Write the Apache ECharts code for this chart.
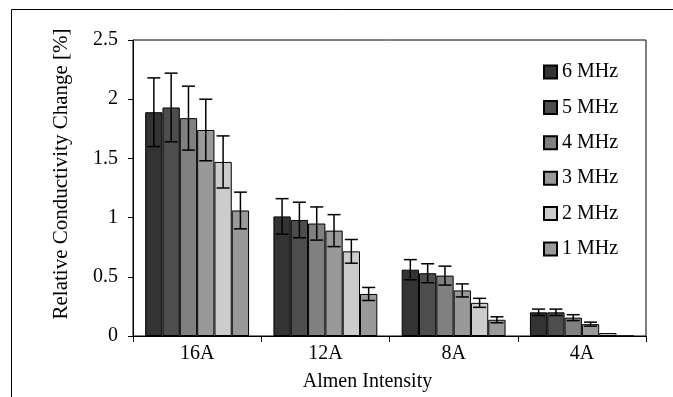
<!DOCTYPE html>
<html>
<head>
<meta charset="UTF-8">
<title>Relative Conductivity Change</title>
<script src="https://cdn.jsdelivr.net/npm/echarts@6/dist/echarts.min.js"></script>
<style>
  html, body { margin: 0; padding: 0; background: #fff; }
  #chart { width: 673px; height: 397px; }
</style>
</head>
<body>
<div id="chart"></div>
<script>
// categories on the x axis
var intensities = ['16A', '12A', '8A', '4A'];
var names = ['6 MHz', '5 MHz', '4 MHz', '3 MHz', '2 MHz', '1 MHz'];

// mean values per frequency
var mhz6 = [1.89, 1.01, 0.56, 0.20];
var mhz5 = [1.93, 0.98, 0.53, 0.20];
var mhz4 = [1.84, 0.95, 0.51, 0.155];
var mhz3 = [1.74, 0.89, 0.385, 0.10];
var mhz2 = [1.47, 0.715, 0.28, 0.025];
var mhz1 = [1.06, 0.355, 0.137, 0];

// error bar half lengths
var err6 = [0.29, 0.15, 0.085, 0.027];
var err5 = [0.29, 0.15, 0.08, 0.027];
var err4 = [0.27, 0.14, 0.08, 0.025];
var err3 = [0.26, 0.135, 0.055, 0.017];
var err2 = [0.22, 0.10, 0.038, 0];
var err1 = [0.155, 0.055, 0.025, 0];

var yTicks = [0, 0.5, 1, 1.5, 2, 2.5];

var values = [mhz6, mhz5, mhz4, mhz3, mhz2, mhz1];
var errors = [err6, err5, err4, err3, err2, err1];
var colors = ['#333333', '#4d4d4d', '#808080', '#999999', '#cccccc', '#999999'];
var gapRatio = 0.19;
var font = 'Liberation Serif';

var chart = echarts.init(document.getElementById('chart'));

var series = [];
values.forEach(function (vals, k) {
  series.push({
    type: 'bar',
    name: names[k],
    data: vals,
    barGap: '0%',
    barCategoryGap: (gapRatio * 100) + '%',
    itemStyle: { color: colors[k], borderColor: '#000', borderWidth: 1 },
    emphasis: { disabled: true }
  });
});

// error bars drawn on top of each bar
values.forEach(function (vals, k) {
  series.push({
    type: 'custom',
    name: names[k] + ' err',
    z: 10,
    silent: true,
    data: intensities.map(function (c, i) { return [i, vals[i], errors[k][i]]; }),
    encode: { x: 0, y: 1 },
    renderItem: function (params, api) {
      var v = api.value(1), e = api.value(2);
      if (!e) return;
      var bw = api.size([1, 0])[0] * (1 - gapRatio) / names.length;
      var x = api.coord([api.value(0), v])[0] + (k - 2.5) * bw;
      var top = api.coord([api.value(0), v + e])[1];
      var bot = api.coord([api.value(0), v - e])[1];
      var hw = 6.5;
      var st = { stroke: '#000', lineWidth: 1.5 };
      return {
        type: 'group',
        children: [
          { type: 'line', shape: { x1: x, y1: top, x2: x, y2: bot }, style: st },
          { type: 'line', shape: { x1: x - hw, y1: top, x2: x + hw, y2: top }, style: st },
          { type: 'line', shape: { x1: x - hw, y1: bot, x2: x + hw, y2: bot }, style: st }
        ]
      };
    }
  });
});

chart.setOption({
  animation: false,
  textStyle: { fontFamily: font },
  graphic: [{
    type: 'rect',
    shape: { x: 11.5, y: 9.5, width: 700, height: 420 },
    style: { fill: null, stroke: '#000', lineWidth: 1 },
    silent: true
  }],
  grid: {
    left: 133, right: 27, top: 40, bottom: 61,
    show: true, borderColor: '#000', borderWidth: 1, backgroundColor: 'transparent'
  },
  legend: {
    data: names,
    orient: 'vertical',
    left: 543, top: 62,
    padding: 0,
    itemWidth: 13, itemHeight: 13,
    itemGap: 15.4,
    itemTextGap: 4,
    icon: 'rect',
    textStyle: { fontFamily: font, fontSize: 20, lineHeight: 20, color: '#000' }
  },
  xAxis: {
    type: 'category',
    data: intensities,
    name: 'Almen Intensity',
    nameLocation: 'middle',
    nameGap: 36,
    nameTextStyle: { fontFamily: font, fontSize: 20, color: '#000', padding: [0, 44, 0, 0] },
    axisLine: { lineStyle: { color: '#000', width: 1 } },
    axisTick: { show: true, length: 6, lineStyle: { color: '#000' } },
    axisLabel: { fontFamily: font, fontSize: 20, color: '#000', margin: 8 }
  },
  yAxis: {
    type: 'value',
    min: 0, max: 2.5, interval: 0.5,
    name: 'Relative Conductivity Change [%]',
    nameLocation: 'middle',
    nameGap: 61,
    nameTextStyle: { fontFamily: font, fontSize: 21, color: '#000', padding: [0, 0, 0, 28] },
    axisLine: { show: true, lineStyle: { color: '#000', width: 1 } },
    axisTick: { show: true, length: 5, lineStyle: { color: '#000' } },
    splitLine: { show: false },
    axisLabel: {
      fontFamily: font, fontSize: 20, color: '#000', margin: 15,
      formatter: function (v) { return yTicks.indexOf(v) >= 0 ? String(v) : ''; }
    }
  },
  series: series
});
</script>
</body>
</html>
